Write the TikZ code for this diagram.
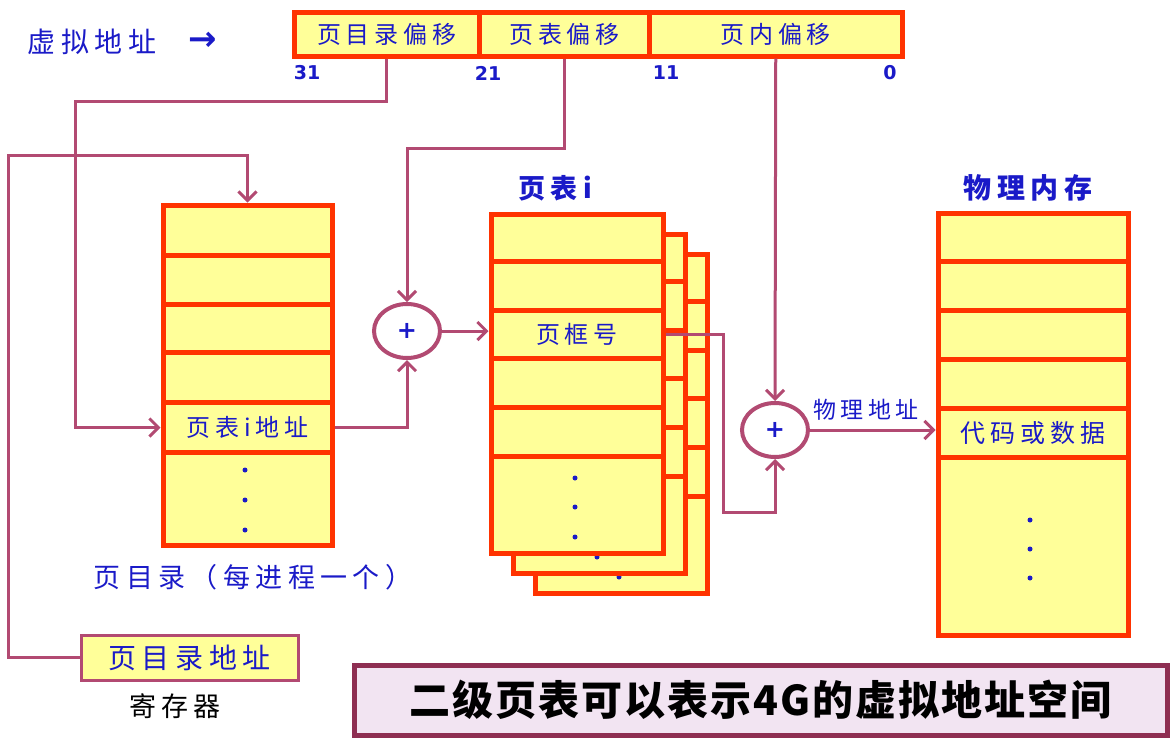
\documentclass[tikz,border=0pt]{standalone}
\usepackage{fontspec}
\newfontfamily\cjk{Noto Sans CJK SC}[LetterSpace=20]
\newfontfamily\cjkb{Noto Sans CJK SC}[LetterSpace=5]
\newfontfamily\numf{DejaVu Sans}
\usetikzlibrary{arrows.meta,shapes.geometric}
\definecolor{ored}{HTML}{FF3300}
\definecolor{yel}{HTML}{FFFF99}
\definecolor{lnk}{HTML}{B24A72}
\definecolor{blu}{HTML}{1A1AC8}
\definecolor{pinkbg}{HTML}{F2E4F2}
\definecolor{maroon}{HTML}{8E2E52}
\tikzset{
 cell/.style={draw=ored, fill=yel, line width=5pt, inner sep=0pt, anchor=north west, text=blu, font=\cjk\fontsize{24}{24}\selectfont},
 link/.style={draw=lnk, line width=3pt, -{Straight Barb[length=9pt,width=18pt]}},
 adder/.style={ellipse, draw=lnk, line width=4pt, fill=white, minimum width=66pt, minimum height=54pt, inner sep=0pt, text=blu, font=\numf\bfseries\fontsize{24}{24}\selectfont},
 tdot/.style={circle, fill=blu, inner sep=0pt, minimum size=5pt},
 blabel/.style={text=blu, inner sep=0pt, font=\cjk\fontsize{27}{27}\selectfont},
 bbold/.style={text=blu, inner sep=0pt, font=\cjk\bfseries\fontsize{27}{27}\selectfont},
 num/.style={text=blu, inner sep=0pt, font=\numf\bfseries\fontsize{19}{19}\selectfont},
}
\begin{document}
\begin{tikzpicture}[x=1pt,y=-1pt]
\useasboundingbox (0,0) rectangle (1173,742);
\fill[white] (0,0) rectangle (1173,742);

% virtual address bar
\node[blabel, font=\cjk\fontsize{28}{28}\selectfont] (va) at (92,42) {虚拟地址};
\node[text=blu, inner sep=0pt, font=\numf\bfseries\fontsize{34}{34}\selectfont] (vaarrow) at (203,41) {→};
\node[cell, minimum width=185.5pt, minimum height=44pt] (pdoff) at (291.5,9.5) {页目录偏移};
\node[cell, minimum width=170pt, minimum height=44pt] (ptoff) at (477,9.5) {页表偏移};
\node[cell, minimum width=252.5pt, minimum height=44pt] (pgoff) at (647,9.5) {页内偏移};
\node[num] (n31) at (307,73) {31};
\node[num] (n21) at (488,73) {21};
\node[num] (n11) at (666,73) {11};
\node[num] (n0) at (890,73) {0};

% page directory
\node[cell, minimum width=169pt, minimum height=50.5pt] (pd1) at (160.5,202.5) {};
\node[cell, minimum width=169pt, minimum height=49pt] (pd2) at (160.5,253) {};
\node[cell, minimum width=169pt, minimum height=48pt] (pd3) at (160.5,302) {};
\node[cell, minimum width=169pt, minimum height=50pt] (pd4) at (160.5,350) {};
\node[cell, minimum width=169pt, minimum height=50pt] (pdE) at (160.5,400) {页表i地址};
\node[cell, minimum width=169pt, minimum height=92.5pt] (pd6) at (160.5,450) {};
\node[tdot] (pdd1) at (245,470) {};
\node[tdot] (pdd2) at (245,500) {};
\node[tdot] (pdd3) at (245,530) {};
\node[blabel] (pdlabel) at (253,577) {页目录（每进程一个）};

% page tables (back layers)
\foreach \l/\dx/\dy in {3/44/40,2/22/20} {
  \foreach \r/\t/\h in {1/211.5/47.5, 2/259/49, 3/308/48, 4/356/49, 5/405/49, 6/454/96.5} {
    \node[cell, minimum width=172pt, minimum height=\h pt] (pt\l-\r) at (488.5+\dx,\t+\dy) {};
  }
  \node[tdot] (ptd\l-1) at (575+\dx,478+\dy) {};
  \node[tdot] (ptd\l-2) at (575+\dx,507+\dy) {};
  \node[tdot] (ptd\l-3) at (575+\dx,537+\dy) {};
}
% front page table
\node[cell, minimum width=172pt, minimum height=47.5pt] (pt1-1) at (488.5,211.5) {};
\node[cell, minimum width=172pt, minimum height=49pt] (pt1-2) at (488.5,259) {};
\node[cell, minimum width=172pt, minimum height=48pt] (pf) at (488.5,308) {页框号};
\node[cell, minimum width=172pt, minimum height=49pt] (pt1-4) at (488.5,356) {};
\node[cell, minimum width=172pt, minimum height=49pt] (pt1-5) at (488.5,405) {};
\node[cell, minimum width=172pt, minimum height=96.5pt] (pt1-6) at (488.5,454) {};
\node[tdot] (ptd1-1) at (575,478) {};
\node[tdot] (ptd1-2) at (575,507) {};
\node[tdot] (ptd1-3) at (575,537) {};
\node[bbold] (ptlabel) at (555,188) {页表i};

% physical memory
\node[cell, minimum width=190pt, minimum height=48.5pt] (pm1) at (935.5,210.5) {};
\node[cell, minimum width=190pt, minimum height=49pt] (pm2) at (935.5,259) {};
\node[cell, minimum width=190pt, minimum height=49pt] (pm3) at (935.5,308) {};
\node[cell, minimum width=190pt, minimum height=49pt] (pm4) at (935.5,357) {};
\node[cell, minimum width=190pt, minimum height=49pt, font=\cjk\fontsize{25}{25}\selectfont] (pmE) at (935.5,406) {代码或数据};
\node[cell, minimum width=190pt, minimum height=177.5pt] (pm6) at (935.5,455) {};
\node[tdot] (pmd1) at (1030,520) {};
\node[tdot] (pmd2) at (1030,549) {};
\node[tdot] (pmd3) at (1030,578) {};
\node[bbold, font=\cjk\bfseries\fontsize{28}{28}\selectfont] (pmlabel) at (1028,188) {物理内存};

% adders
\node[adder] (plus1) at (407,331) {+};
\node[adder] (plus2) at (775,430) {+};

% register
\node[cell, draw=lnk, line width=3pt, minimum width=217pt, minimum height=45pt, font=\cjk\fontsize{28}{28}\selectfont] (reg) at (79.5,633.5) {页目录地址};
\node[inner sep=0pt, font=\cjk\fontsize{27}{27}\selectfont] (reglabel) at (175,706) {寄存器};

% summary box
\node[draw=maroon, fill=pinkbg, line width=5pt, anchor=north west, minimum width=813pt, minimum height=70pt, inner sep=0pt, font=\cjkb\bfseries\fontsize{41}{41}\selectfont] (summary) at (351.5,662.5) {二级页表可以表示4G的虚拟地址空间};

% connectors
\coordinate (c1) at (75,101);
\coordinate (c2) at (407,148);
\coordinate (c3) at (8,155);
\coordinate (c4) at (723,512);
\draw[link] (pdoff.south) |- (c1) |- (pdE.west);
\draw[link] (ptoff.south) |- (c2) -- (plus1.north);
\draw[link] (pgoff.south) -- (plus2.north);
\draw[link] (reg.west) -| (c3) -| (pd1.north);
\draw[link] (pdE.east) -| (plus1.south);
\draw[link] (plus1.east) -- (plus1.east -| pf.west);
\draw[link] (pf.east) -| (c4) -| (plus2.south);
\draw[link] (plus2.east) -- (plus2.east -| pmE.west);
\node[blabel, font=\cjk\fontsize{23}{23}\selectfont] (palabel) at (866,410) {物理地址};
\end{tikzpicture}
\end{document}
